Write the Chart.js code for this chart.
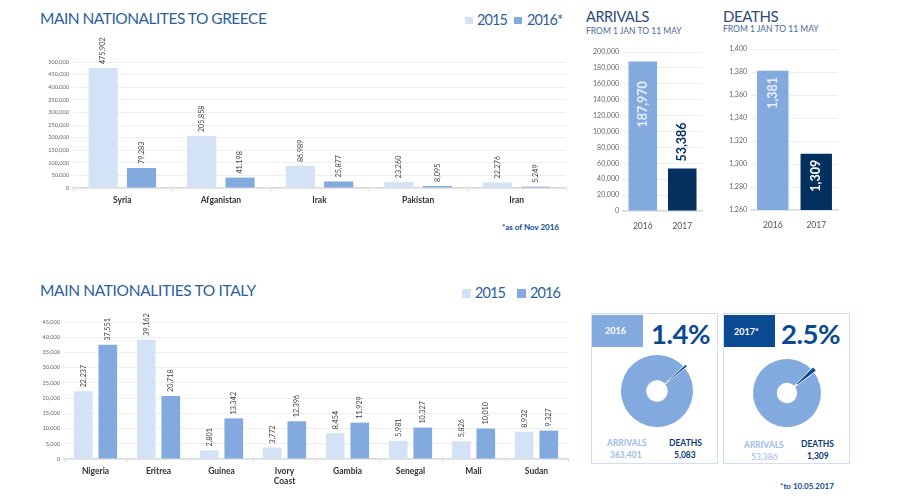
<!DOCTYPE html>
<html>
<head>
<meta charset="utf-8">
<script src="https://cdn.jsdelivr.net/npm/chart.js@4/dist/chart.umd.min.js"></script>
<style>
  html, body { margin: 0; padding: 0; background: #fff; }
  body { width: 900px; height: 500px; position: relative; overflow: hidden; font-family: Lato, sans-serif; }
  canvas { position: absolute; }
  .t { position: absolute; white-space: nowrap; line-height: 1; }
  .title { font-size: 15.5px; color: #2b5f9e; letter-spacing: -0.35px; }
  .head { font-size: 14.5px; color: #2c4a7c; letter-spacing: -0.4px; }
  .sub { font-size: 8.5px; color: #4a6a96; }
  .year { font-size: 14.5px; color: #2b5f9e; letter-spacing: -0.9px; }
  .sw { position: absolute; width: 8px; height: 7px; }
  .box { position: absolute; border: 1.5px solid #cfdff2; box-sizing: border-box; }
  .fill { position: absolute; }
  .pct { font-size: 27.5px; font-weight: 700; color: #0a4a92; letter-spacing: -0.5px; }
  .tag { font-size: 9px; font-weight: 700; color: #fff; }
  .note { font-size: 8px; font-weight: 700; color: #0a4a92; }
  .cap { font-size: 8.5px; font-weight: 700; }
</style>
</head>
<body>
<div class="t title" style="left:40px;top:11px;letter-spacing:-0.5px">MAIN NATIONALITES TO GREECE</div>
<div class="sw" style="left:465px;top:17px;background:#d3e2f4"></div>
<div class="t year" style="left:477px;top:13px">2015</div>
<div class="sw" style="left:514px;top:17px;background:#82aade"></div>
<div class="t year" style="left:527px;top:13px">2016*</div>
<div class="t note" style="left:502px;top:223px">*as of Nov 2016</div>

<div class="t head" style="left:586px;top:10px">ARRIVALS</div>
<div class="t sub" style="left:586px;top:27px">FROM 1 JAN TO 11 MAY</div>
<div class="t head" style="left:723px;top:9px;font-size:15px">DEATHS</div>
<div class="t sub" style="left:723px;top:25px">FROM 1 JAN TO 11 MAY</div>

<div class="t title" style="left:40px;top:283px">MAIN NATIONALITIES TO ITALY</div>
<div class="sw" style="left:462px;top:289px;width:9px;height:9px;background:#d3e2f4"></div>
<div class="t year" style="left:475px;top:286px">2015</div>
<div class="sw" style="left:517px;top:289px;width:9px;height:9px;background:#82aade"></div>
<div class="t year" style="left:530px;top:286px">2016</div>

<div class="box" style="left:591px;top:313px;width:127px;height:151px"></div>
<div class="fill" style="left:592px;top:315px;width:51px;height:32px;background:#82aade"></div>
<div class="t tag" style="left:605px;top:326px">2016</div>
<div class="t pct" style="left:651px;top:320px">1.4%</div>
<div class="t cap" style="left:607px;top:439px;color:#9dbce6">ARRIVALS</div>
<div class="t cap" style="left:610px;top:451px;color:#9dbce6" id="arr16"></div>
<div class="t cap" style="left:669px;top:439px;color:#0a3a78">DEATHS</div>
<div class="t cap" style="left:674px;top:451px;color:#0a3a78" id="dea16"></div>

<div class="box" style="left:723px;top:313px;width:127px;height:151px"></div>
<div class="fill" style="left:724px;top:315px;width:51px;height:32px;background:#0a4a92"></div>
<div class="t tag" style="left:734px;top:327px">2017*</div>
<div class="t pct" style="left:781px;top:320px">2.5%</div>
<div class="t cap" style="left:744px;top:441px;color:#9dbce6">ARRIVALS</div>
<div class="t cap" style="left:751px;top:453px;color:#9dbce6;font-weight:400" id="arr17"></div>
<div class="t cap" style="left:801px;top:440px;color:#0a3a78">DEATHS</div>
<div class="t cap" style="left:807px;top:452px;color:#0a3a78" id="dea17"></div>
<div class="t note" style="left:780px;top:482px">*to 10.05.2017</div>

<canvas id="greece"></canvas>
<canvas id="arrivals"></canvas>
<canvas id="deaths"></canvas>
<canvas id="italy"></canvas>
<canvas id="pie16"></canvas>
<canvas id="pie17"></canvas>

<script>
const greeceCountries = ['Syria', 'Afganistan', 'Irak', 'Pakistan', 'Iran'];
const greece2015 = [475902, 205858, 86989, 23260, 22276];
const greece2016 = [79283, 41198, 25877, 8095, 5249];

const italyCountries = ['Nigeria', 'Eritrea', 'Guinea', ['Ivory', 'Coast'], 'Gambia', 'Senegal', 'Mali', 'Sudan'];
const italy2015 = [22237, 39162, 2801, 3772, 8454, 5981, 5826, 8932];
const italy2016 = [37551, 20718, 13342, 12396, 11929, 10327, 10010, 9327];

const periodYears = ['2016', '2017'];
const arrivalsValues = [187970, 53386];
const deathsValues = [1381, 1309];

const pie2016 = [5083, 363401];
const pie2017 = [1309, 53386];

const LIGHT = '#d3e2f4';
const MID = '#82aade';
const NAVY = '#03305f';
const DARK = '#0a4a92';
const FONT = 'Lato, sans-serif';

document.getElementById('arr16').innerText = pie2016[1].toLocaleString('en-US');
document.getElementById('dea16').innerText = pie2016[0].toLocaleString('en-US');
document.getElementById('arr17').innerText = pie2017[1].toLocaleString('en-US');
document.getElementById('dea17').innerText = pie2017[0].toLocaleString('en-US');

// rotated value labels, offset is px below the bar top where the text starts
function valueLabels(font, colors, offsets) {
    return {
        id: 'valueLabels',
        afterDatasetsDraw(chart) {
            const ctx = chart.ctx;
            chart.data.datasets.forEach((ds, d) => {
                chart.getDatasetMeta(d).data.forEach((bar, i) => {
                    ctx.save();
                    ctx.translate(bar.x, bar.y + offsets(i));
                    ctx.rotate(-Math.PI / 2);
                    ctx.font = font;
                    ctx.fillStyle = colors(i);
                    ctx.textAlign = 'left';
                    ctx.textBaseline = 'middle';
                    ctx.fillText(ds.data[i].toLocaleString('en-US'), 0, 0);
                    ctx.restore();
                });
            });
        }
    };
}

function placeCanvas(id, left, top, width, height) {
    const c = document.getElementById(id);
    c.width = width;
    c.height = height;
    c.style.left = left + 'px';
    c.style.top = top + 'px';
    c.style.width = width + 'px';
    c.style.height = height + 'px';
    return c;
}

function barChart(c, cfg) {
    return new Chart(c, {
        type: 'bar',
        data: { labels: cfg.labels, datasets: cfg.datasets },
        plugins: [cfg.plugin],
        options: {
            animation: false, responsive: false, maintainAspectRatio: false,
            layout: { padding: { top: cfg.padTop, right: cfg.padRight, left: 0, bottom: 0 } },
            plugins: { legend: { display: false }, tooltip: { enabled: false } },
            scales: {
                x: {
                    afterFit(axis) { axis.height = cfg.xHeight; },
                    grid: { drawOnChartArea: false, color: '#dcdcdc', tickLength: 3, display: cfg.xTicks },
                    border: { color: '#dcdcdc', width: 1.5 },
                    ticks: { color: cfg.xColor, font: { family: FONT, size: cfg.xSize, weight: cfg.xWeight }, padding: cfg.xPad, maxRotation: 0, autoSkip: false }
                },
                y: {
                    min: cfg.min, max: cfg.max,
                    afterFit(axis) { axis.width = cfg.yWidth; },
                    grid: { color: '#eeeeee', drawTicks: false },
                    border: { display: false },
                    ticks: { stepSize: cfg.step, color: '#666', font: { family: FONT, size: cfg.ySize }, padding: 4, autoSkip: false,
                        callback: v => v.toLocaleString('en-US') }
                }
            }
        }
    });
}

barChart(placeCanvas('greece', 23, 20, 553, 192), {
    labels: greeceCountries,
    datasets: [
        { data: greece2015, backgroundColor: LIGHT, categoryPercentage: 0.778, barPercentage: 0.76 },
        { data: greece2016, backgroundColor: MID, categoryPercentage: 0.778, barPercentage: 0.76 }
    ],
    plugin: valueLabels('7.2px ' + FONT, () => '#444', () => -4),
    padTop: 42, padRight: 10, xHeight: 24, yWidth: 50, xTicks: true,
    xSize: 8.5, xWeight: 'bold', xColor: '#333', xPad: 4, ySize: 5.6,
    min: 0, max: 500000, step: 50000
});

barChart(placeCanvas('italy', 14, 300, 555, 190), {
    labels: italyCountries,
    datasets: [
        { data: italy2015, backgroundColor: LIGHT, categoryPercentage: 0.78, barPercentage: 0.76 },
        { data: italy2016, backgroundColor: MID, categoryPercentage: 0.78, barPercentage: 0.76 }
    ],
    plugin: valueLabels('7.2px ' + FONT, () => '#444', () => -4),
    padTop: 22, padRight: 1, xHeight: 31, yWidth: 50, xTicks: true,
    xSize: 8.5, xWeight: 'bold', xColor: '#333', xPad: 4, ySize: 5.6,
    min: 0, max: 45000, step: 5000
});

barChart(placeCanvas('arrivals', 573, 40, 131, 192), {
    labels: periodYears,
    datasets: [{ data: arrivalsValues, backgroundColor: [MID, NAVY], categoryPercentage: 0.85, barPercentage: 0.85 }],
    plugin: valueLabels('bold 12.5px ' + FONT, i => ['#e9f0fa', NAVY][i], i => [66, -7][i]),
    padTop: 12, padRight: 2, xHeight: 21, yWidth: 50, xTicks: false,
    xSize: 8.5, xWeight: 'normal', xColor: '#555', xPad: 7, ySize: 7,
    min: 0, max: 200000, step: 20000
});

barChart(placeCanvas('deaths', 711, 38, 129, 193), {
    labels: periodYears,
    datasets: [{ data: deathsValues, backgroundColor: [MID, NAVY], categoryPercentage: 0.85, barPercentage: 0.85 }],
    plugin: valueLabels('bold 12.5px ' + FONT, i => ['#e9f0fa', '#fff'][i], () => 38),
    padTop: 11, padRight: 2, xHeight: 21, yWidth: 40, xTicks: false,
    xSize: 8.5, xWeight: 'normal', xColor: '#555', xPad: 7, ySize: 7,
    min: 1260, max: 1400, step: 20
});

function pieChart(c, values, radius) {
    const share = values[0] / (values[0] + values[1]);
    return new Chart(c, {
        type: 'doughnut',
        data: { datasets: [{
            data: values,
            backgroundColor: [DARK, MID],
            borderColor: '#fff',
            borderWidth: [1, 0],
            offset: [6, 0]
        }] },
        options: {
            animation: false, responsive: false, maintainAspectRatio: false,
            radius: radius, cutout: '30%',
            rotation: 49 - 180 * share,
            plugins: { legend: { display: false }, tooltip: { enabled: false } }
        }
    });
}

pieChart(placeCanvas('pie16', 607, 341, 100, 100), pie2016, 36);
pieChart(placeCanvas('pie17', 737, 343, 100, 100), pie2017, 34);
</script>
</body>
</html>
